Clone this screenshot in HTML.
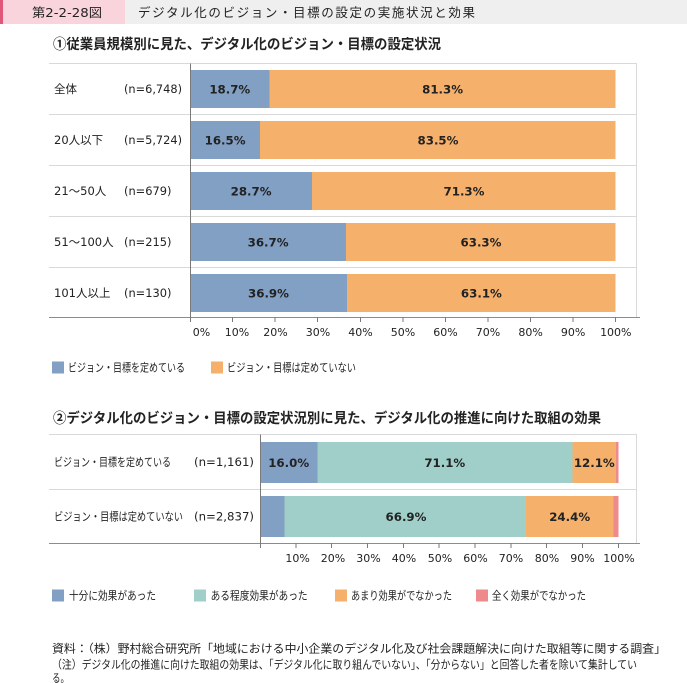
<!DOCTYPE html>
<html><head><meta charset="utf-8"><style>
html,body{margin:0;padding:0;background:#fff;}
svg{display:block;}
text{font-family:"DejaVu Sans","Liberation Sans","Noto Sans CJK JP",sans-serif;fill:#222;}
.j{font-family:"Liberation Sans","Noto Sans CJK JP",sans-serif;}
.b{font-weight:bold;}
</style></head><body>
<svg width="687" height="683" viewBox="0 0 687 683" xmlns="http://www.w3.org/2000/svg">
<!-- header -->
<rect x="0" y="0" width="3" height="24" fill="#e0577a"/>
<rect x="3" y="0" width="122" height="24" fill="#fad4dc"/>
<rect x="125" y="0" width="562" height="24" fill="#efefef"/>
<text x="32" y="17" font-size="12.5" textLength="70" lengthAdjust="spacingAndGlyphs">第2-2-28図</text>
<text class="j" x="138" y="17" font-size="12.5" textLength="337" lengthAdjust="spacing">デジタル化のビジョン・目標の設定の実施状況と効果</text>

<!-- section 1 title -->
<text class="j b" x="53" y="49" font-size="14" textLength="388" lengthAdjust="spacingAndGlyphs">①従業員規模別に見た、デジタル化のビジョン・目標の設定状況</text>

<!-- chart 1 frame -->
<g shape-rendering="crispEdges">
<line x1="49" y1="63.5" x2="637" y2="63.5" stroke="#d9d9d9"/>
<line x1="636.5" y1="63.5" x2="636.5" y2="317" stroke="#d9d9d9"/>
<line x1="49" y1="114.5" x2="637" y2="114.5" stroke="#d9d9d9"/>
<line x1="49" y1="165.5" x2="637" y2="165.5" stroke="#d9d9d9"/>
<line x1="49" y1="216.5" x2="637" y2="216.5" stroke="#d9d9d9"/>
<line x1="49" y1="267.5" x2="637" y2="267.5" stroke="#d9d9d9"/>
</g>

<!-- chart 1 bars -->
<g shape-rendering="crispEdges">
<rect x="190" y="70" width="79.6" height="38" fill="#829fc4"/>
<rect x="269.6" y="70" width="346.1" height="38" fill="#f5b06b"/>
<rect x="190" y="121" width="70.2" height="38" fill="#829fc4"/>
<rect x="260.2" y="121" width="355.5" height="38" fill="#f5b06b"/>
<rect x="190" y="172" width="122.2" height="38" fill="#829fc4"/>
<rect x="312.2" y="172" width="303.5" height="38" fill="#f5b06b"/>
<rect x="190" y="223" width="156.2" height="38" fill="#829fc4"/>
<rect x="346.2" y="223" width="269.5" height="38" fill="#f5b06b"/>
<rect x="190" y="274" width="157.1" height="38" fill="#829fc4"/>
<rect x="347.1" y="274" width="268.6" height="38" fill="#f5b06b"/>
</g>
<g class="b" font-size="11.8" text-anchor="middle">
<text x="229.8" y="93.3">18.7%</text><text x="442.6" y="93.3">81.3%</text>
<text x="225.1" y="144.3">16.5%</text><text x="438" y="144.3">83.5%</text>
<text x="251.1" y="195.3">28.7%</text><text x="464" y="195.3">71.3%</text>
<text x="268.1" y="246.3">36.7%</text><text x="481" y="246.3">63.3%</text>
<text x="268.5" y="297.3">36.9%</text><text x="481.4" y="297.3">63.1%</text>
</g>
<!-- chart 1 row labels -->
<g font-size="11.5">
<text x="54" y="93">全体</text><text x="124" y="93" textLength="58" lengthAdjust="spacingAndGlyphs">(n=6,748)</text>
<text x="54" y="144">20人以下</text><text x="124" y="144" textLength="58" lengthAdjust="spacingAndGlyphs">(n=5,724)</text>
<text x="54" y="195">21～50人</text><text x="124" y="195" textLength="47.5" lengthAdjust="spacingAndGlyphs">(n=679)</text>
<text x="54" y="246">51～100人</text><text x="124" y="246" textLength="47.5" lengthAdjust="spacingAndGlyphs">(n=215)</text>
<text x="54" y="297">101人以上</text><text x="124" y="297" textLength="47.5" lengthAdjust="spacingAndGlyphs">(n=130)</text>
</g>
<!-- chart 1 axes -->
<g shape-rendering="crispEdges" stroke="#7a7a7a">
<line x1="190.5" y1="63.5" x2="190.5" y2="318" />
<line x1="49" y1="317.5" x2="640" y2="317.5" stroke="#8c8c8c"/>
<line x1="190.5" y1="317" x2="190.5" y2="322"/>
<line x1="232.6" y1="317" x2="232.6" y2="322"/>
<line x1="275.1" y1="317" x2="275.1" y2="322"/>
<line x1="317.7" y1="317" x2="317.7" y2="322"/>
<line x1="360.3" y1="317" x2="360.3" y2="322"/>
<line x1="402.9" y1="317" x2="402.9" y2="322"/>
<line x1="445.4" y1="317" x2="445.4" y2="322"/>
<line x1="488" y1="317" x2="488" y2="322"/>
<line x1="530.6" y1="317" x2="530.6" y2="322"/>
<line x1="573.1" y1="317" x2="573.1" y2="322"/>
<line x1="615.7" y1="317" x2="615.7" y2="322"/>
</g>
<g font-size="11" text-anchor="middle">
<text x="201.5" y="336">0%</text>
<text x="237" y="336">10%</text>
<text x="275.5" y="336">20%</text>
<text x="318" y="336">30%</text>
<text x="360.5" y="336">40%</text>
<text x="403" y="336">50%</text>
<text x="445.5" y="336">60%</text>
<text x="488" y="336">70%</text>
<text x="530.6" y="336">80%</text>
<text x="573.1" y="336">90%</text>
<text x="615.8" y="336">100%</text>
</g>
<!-- legend 1 -->
<rect x="52" y="361.5" width="12" height="12" fill="#829fc4"/>
<text class="j" x="68" y="371.5" font-size="11.5" textLength="117" lengthAdjust="spacingAndGlyphs">ビジョン・目標を定めている</text>
<rect x="211" y="361.5" width="12" height="12" fill="#f5b06b"/>
<text class="j" x="227" y="371.5" font-size="11.5" textLength="129" lengthAdjust="spacingAndGlyphs">ビジョン・目標は定めていない</text>

<!-- section 2 title -->
<text class="j b" x="53" y="423" font-size="14" textLength="548" lengthAdjust="spacingAndGlyphs">②デジタル化のビジョン・目標の設定状況別に見た、デジタル化の推進に向けた取組の効果</text>

<!-- chart 2 frame -->
<g shape-rendering="crispEdges">
<line x1="49" y1="434.5" x2="637" y2="434.5" stroke="#d9d9d9"/>
<line x1="636.5" y1="434.5" x2="636.5" y2="543" stroke="#d9d9d9"/>
<line x1="49" y1="489.5" x2="637" y2="489.5" stroke="#d9d9d9"/>
</g>
<g shape-rendering="crispEdges">
<rect x="260" y="442" width="57.3" height="41" fill="#829fc4"/>
<rect x="317.3" y="442" width="255" height="41" fill="#a0cfca"/>
<rect x="572.3" y="442" width="43.7" height="41" fill="#f5b06b"/>
<rect x="616" y="442" width="2.3" height="41" fill="#ee8a8c"/>
<rect x="260" y="496" width="24.3" height="41" fill="#829fc4"/>
<rect x="284.3" y="496" width="241.6" height="41" fill="#a0cfca"/>
<rect x="525.9" y="496" width="87.4" height="41" fill="#f5b06b"/>
<rect x="613.3" y="496" width="5" height="41" fill="#ee8a8c"/>
</g>
<g class="b" font-size="11.8" text-anchor="middle">
<text x="288.7" y="466.8">16.0%</text>
<text x="444.8" y="466.8">71.1%</text>
<text x="594.3" y="466.8">12.1%</text>
<text x="406" y="520.8">66.9%</text>
<text x="569.7" y="520.8">24.4%</text>
</g>
<g font-size="11.5">
<text class="j" x="54" y="466" textLength="117" lengthAdjust="spacingAndGlyphs">ビジョン・目標を定めている</text>
<text x="194" y="466" textLength="60" lengthAdjust="spacingAndGlyphs">(n=1,161)</text>
<text class="j" x="54" y="520.5" textLength="129" lengthAdjust="spacingAndGlyphs">ビジョン・目標は定めていない</text>
<text x="194" y="520.5" textLength="60" lengthAdjust="spacingAndGlyphs">(n=2,837)</text>
</g>
<g shape-rendering="crispEdges" stroke="#7a7a7a">
<line x1="260.5" y1="434.5" x2="260.5" y2="544"/>
<line x1="49" y1="543.5" x2="640" y2="543.5" stroke="#8c8c8c"/>
<line x1="260.5" y1="543" x2="260.5" y2="548"/>
<line x1="295.8" y1="543" x2="295.8" y2="548"/>
<line x1="331.7" y1="543" x2="331.7" y2="548"/>
<line x1="367.5" y1="543" x2="367.5" y2="548"/>
<line x1="403.3" y1="543" x2="403.3" y2="548"/>
<line x1="439.2" y1="543" x2="439.2" y2="548"/>
<line x1="475" y1="543" x2="475" y2="548"/>
<line x1="510.8" y1="543" x2="510.8" y2="548"/>
<line x1="546.6" y1="543" x2="546.6" y2="548"/>
<line x1="582.5" y1="543" x2="582.5" y2="548"/>
<line x1="618.3" y1="543" x2="618.3" y2="548"/>
</g>
<g font-size="11" text-anchor="middle">
<text x="297.6" y="562">10%</text>
<text x="333" y="562">20%</text>
<text x="368.5" y="562">30%</text>
<text x="404" y="562">40%</text>
<text x="440" y="562">50%</text>
<text x="475.5" y="562">60%</text>
<text x="511" y="562">70%</text>
<text x="547" y="562">80%</text>
<text x="582.5" y="562">90%</text>
<text x="619" y="562">100%</text>
</g>
<!-- legend 2 -->
<g class="j" font-size="11.5">
<rect x="52" y="589.5" width="12" height="12" fill="#829fc4"/>
<text x="69" y="599.5" textLength="87" lengthAdjust="spacingAndGlyphs">十分に効果があった</text>
<rect x="194" y="589.5" width="12" height="12" fill="#a0cfca"/>
<text x="210.6" y="599.5" textLength="97" lengthAdjust="spacingAndGlyphs">ある程度効果があった</text>
<rect x="335" y="589.5" width="12" height="12" fill="#f5b06b"/>
<text x="351" y="599.5" textLength="101" lengthAdjust="spacingAndGlyphs">あまり効果がでなかった</text>
<rect x="476" y="589.5" width="12" height="12" fill="#ee8a8c"/>
<text x="492" y="599.5" textLength="94" lengthAdjust="spacingAndGlyphs">全く効果がでなかった</text>
</g>
<!-- footnotes -->
<g class="j" font-size="11.5">
<text x="52" y="652.5" textLength="614" lengthAdjust="spacingAndGlyphs">資料：（株）野村総合研究所「地域における中小企業のデジタル化及び社会課題解決に向けた取組等に関する調査」</text>
<text x="52" y="668.5" textLength="585" lengthAdjust="spacingAndGlyphs">（注）デジタル化の推進に向けた取組の効果は、「デジタル化に取り組んでいない」、「分からない」と回答した者を除いて集計してい</text>
<text x="52" y="682" textLength="17" lengthAdjust="spacingAndGlyphs">る。</text>
</g>
</svg>
</body></html>
